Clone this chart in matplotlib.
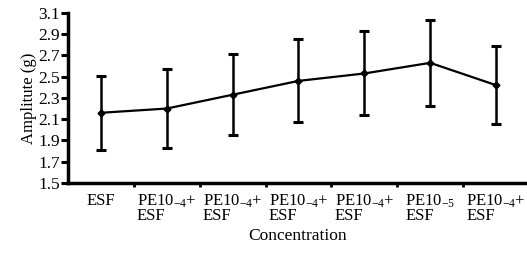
import matplotlib
matplotlib.use("Agg")
import matplotlib.pyplot as plt
import numpy as np

# values
categories = ["ESF",
              "PE10$_{-4}$+\nESF",
              "PE10$_{-4}$+\nESF",
              "PE10$_{-4}$+\nESF",
              "PE10$_{-4}$+\nESF",
              "PE10$_{-5}$\nESF",
              "PE10$_{-4}$+\nESF"]
amplitude = [2.16, 2.20, 2.33, 2.46, 2.53, 2.63, 2.42]
errors = [0.35, 0.37, 0.38, 0.39, 0.395, 0.405, 0.365]
yticks = [1.5, 1.7, 1.9, 2.1, 2.3, 2.5, 2.7, 2.9, 3.1]

plt.rcParams['font.family'] = ['Liberation Serif', 'DejaVu Serif']
plt.rcParams['mathtext.fontset'] = 'custom'
plt.rcParams['mathtext.rm'] = 'Liberation Serif'
plt.rcParams['mathtext.it'] = 'Liberation Serif'

fig = plt.figure(figsize=(5.27, 2.58), dpi=100)
ax = fig.add_axes([0.129, 0.291, 0.871, 0.659])

x = np.arange(len(categories))
ax.errorbar(x, amplitude, yerr=errors, color='black', linewidth=1.6,
            elinewidth=1.8, capsize=3.6, capthick=2.2,
            marker='D', markersize=3.5)

ax.set_xlim(-0.5, 6.47)
ax.set_ylim(1.5, 3.1)
ax.set_yticks(yticks)
ax.set_yticklabels([f"{v:.1f}" for v in yticks], fontsize=12.5)

ax.set_xticks(x)
ax.set_xticklabels(categories, fontsize=12, multialignment='left',
                   linespacing=0.85)
ax.set_xticks(x[:-1] + 0.5, minor=True)
ax.tick_params(axis='x', which='major', length=0, pad=7)
ax.tick_params(axis='x', which='minor', direction='out', length=3, width=2)
ax.tick_params(axis='y', direction='out', length=5, width=2.2, pad=1)

for side in ['top', 'right']:
    ax.spines[side].set_visible(False)
for side in ['left', 'bottom']:
    ax.spines[side].set_linewidth(2.5)
    ax.spines[side].set_clip_on(False)

ax.set_ylabel("Amplitute (g)", fontsize=12, labelpad=1)
ax.set_xlabel("Concentration", fontsize=12.5, labelpad=3)

fig.savefig("out.png", dpi=100)
